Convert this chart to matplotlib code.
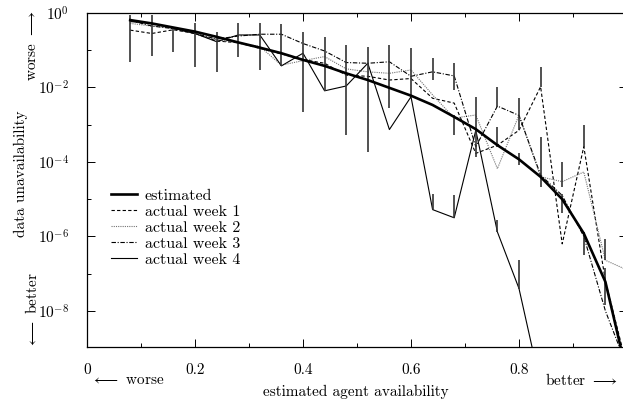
import matplotlib
matplotlib.use("Agg")
import matplotlib.pyplot as plt
import numpy as np
from matplotlib.ticker import FixedLocator, FixedFormatter

plt.rcParams["font.family"] = "serif"
plt.rcParams["font.serif"] = ["cmr10"]
plt.rcParams["mathtext.fontset"] = "cm"
plt.rcParams["axes.unicode_minus"] = False
plt.rcParams["font.size"] = 10

# availability grid (0.08 .. 1.00 step 0.04)
avail = [0.08, 0.12, 0.16, 0.20, 0.24, 0.28, 0.32, 0.36, 0.40, 0.44, 0.48, 0.52,
         0.56, 0.60, 0.64, 0.68, 0.72, 0.76, 0.80, 0.84, 0.88, 0.92, 0.96, 1.00]

# log10 of data unavailability
est_log = [-0.19, -0.28, -0.39, -0.50, -0.64, -0.79, -0.93, -1.08, -1.26, -1.42, -1.62,
           -1.80, -2.01, -2.22, -2.47, -2.79, -3.12, -3.55, -3.93, -4.40, -5.00, -5.92,
           -7.22, -9.70]
week1_log = [-0.46, -0.55, -0.45, -0.55, -0.75, -0.80, -0.95, -1.10, -1.25, -1.35, -1.67,
             -1.70, -1.80, -1.76, -2.29, -2.42, -3.77, -3.55, -3.15, -1.98, -6.20, -3.59,
             -7.20, -9.50]
week2_log = [-0.28, -0.35, -0.40, -0.55, -0.72, -0.80, -0.90, -1.40, -1.28, -1.17, -1.50,
             -1.58, -1.62, -1.53, -2.20, -2.82, -2.74, -4.18, -2.74, -4.40, -4.53, -4.27,
             -6.64, -6.90]
week3_log = [-0.20, -0.35, -0.42, -0.55, -0.70, -0.62, -0.57, -0.57, -0.82, -1.02, -1.33,
             -1.35, -1.31, -1.70, -1.58, -1.69, -3.59, -2.50, -2.75, -4.35, -4.90, -6.00,
             -8.00, -9.50]
week4_log = [-0.23, -0.28, -0.41, -0.55, -0.77, -0.59, -0.59, -1.42, -1.08, -2.09, -1.96,
             -1.35, -3.13, -2.25, -5.28, -5.50, -3.15, -5.88, -7.40, -10.0, np.nan, np.nan,
             np.nan, np.nan]

# error bars (log10 upper / lower end), nan = no bar
nan = np.nan
week1_hi = [nan] * 14 + [nan, -2.74, nan, -3.06, -2.29, -1.44, nan, -3.01, -6.86, nan]
week1_lo = [nan] * 14 + [nan, -3.28, nan, -3.59, -3.15, -1.98, nan, -3.59, -7.85, nan]
week2_hi = [nan] * 18 + [-3.77, nan, -4.00, nan, -6.06, nan]
week2_lo = [nan] * 18 + [-4.09, nan, -4.67, nan, -6.64, nan]
week3_hi = [nan] * 14 + [-1.22, -1.35, nan, -1.98, nan, -3.32, -4.85, -5.88, nan, nan]
week3_lo = [nan] * 14 + [-1.80, -2.07, nan, -2.52, nan, -4.67, -5.38, -6.50, nan, nan]
week4_hi = [-0.05, -0.05, -0.41, -0.28, -0.50, -0.26, -0.26, -0.30, -0.50, -0.64, -0.86,
            -0.91, -0.86, -0.95, -4.85, -4.89, -2.25, -5.55, -6.64, nan, nan, nan, nan, nan]
week4_lo = [-1.31, -1.16, -1.04, -1.44, -1.58, -1.17, -1.53, -1.42, -2.65, -2.09, -3.28,
            -3.73, -2.56, -2.25, -5.28, -5.50, -3.86, -5.88, -7.40, nan, nan, nan, nan, nan]

labels = ["estimated", "actual week 1", "actual week 2", "actual week 3", "actual week 4"]


def to_lin(values):
  return np.power(10.0, np.asarray(values, dtype=float))


fig = plt.figure(figsize=(6.23, 4.04), dpi=100)
ax = fig.add_axes([87 / 623, 57 / 404, 540 / 623, 334 / 404])
ax.set_yscale("log")

x = np.asarray(avail)
ax.plot(x, to_lin(est_log), color="black", lw=1.9, label=labels[0], zorder=5)
ax.plot(x, to_lin(week1_log), color="black", lw=0.8, ls=(0, (3, 2)), label=labels[1])
ax.plot(x, to_lin(week2_log), color="0.45", lw=0.8, ls=(0, (1, 1)), label=labels[2])
ax.plot(x, to_lin(week3_log), color="black", lw=0.8, ls=(0, (4, 1.5, 1, 1.5)),
        label=labels[3])
ax.plot(x, to_lin(week4_log), color="black", lw=0.8, label=labels[4])

for hi, lo in [(week1_hi, week1_lo), (week2_hi, week2_lo),
               (week3_hi, week3_lo), (week4_hi, week4_lo)]:
  ax.vlines(x, to_lin(lo), to_lin(hi), color="0.2", lw=1.2)

ax.set_xlim(0, 1)
ax.set_ylim(10 ** -8.97, 1)

ax.xaxis.set_major_locator(FixedLocator([0, 0.2, 0.4, 0.6, 0.8]))
ax.xaxis.set_major_formatter(FixedFormatter(["0", "0.2", "0.4", "0.6", "0.8"]))
ax.xaxis.set_minor_locator(FixedLocator([0.1, 0.3, 0.5, 0.7, 0.9]))
yticks = [1, 1e-2, 1e-4, 1e-6, 1e-8]
ax.yaxis.set_major_locator(FixedLocator(yticks))
ax.yaxis.set_major_formatter(FixedFormatter(
  ["$10^{0}$", "$10^{-2}$", "$10^{-4}$", "$10^{-6}$", "$10^{-8}$"]))
ax.yaxis.set_minor_locator(FixedLocator([1e-1, 1e-3, 1e-5, 1e-7]))
ax.yaxis.set_minor_formatter(FixedFormatter([]))

ax.tick_params(which="both", direction="in", top=True, right=True, width=0.7)
ax.tick_params(which="major", length=6, labelsize=11)
ax.tick_params(which="minor", length=3)
ax.tick_params(axis="x", which="major", pad=12)
ax.tick_params(axis="y", which="major", pad=13)
for spine in ax.spines.values():
  spine.set_linewidth(0.9)

ax.legend(loc="upper left", bbox_to_anchor=(0.045, 0.475), frameon=False,
          handlelength=1.6, handletextpad=0.5, labelspacing=0.12, borderpad=0,
          borderaxespad=0, fontsize=11.5)

W, H = 623, 404
fig.text(356 / W, 1 - 392 / H, "estimated agent availability", ha="center",
         va="center", fontsize=11)
fig.text(128 / W, 1 - 380 / H, r"$\longleftarrow$ worse", ha="center", va="center",
         fontsize=11)
fig.text(581 / W, 1 - 380 / H, r"better $\longrightarrow$", ha="center", va="center",
         fontsize=11)
fig.text(21 / W, 1 - 174 / H, "data unavailability", rotation=90, ha="center",
         va="center", fontsize=11)
fig.text(32 / W, 1 - 46 / H, r"worse $\longrightarrow$", rotation=90, ha="center",
         va="center", fontsize=11)
fig.text(32 / W, 1 - 310 / H, r"$\longleftarrow$ better", rotation=90, ha="center",
         va="center", fontsize=11)

fig.savefig("out.png", dpi=100)
